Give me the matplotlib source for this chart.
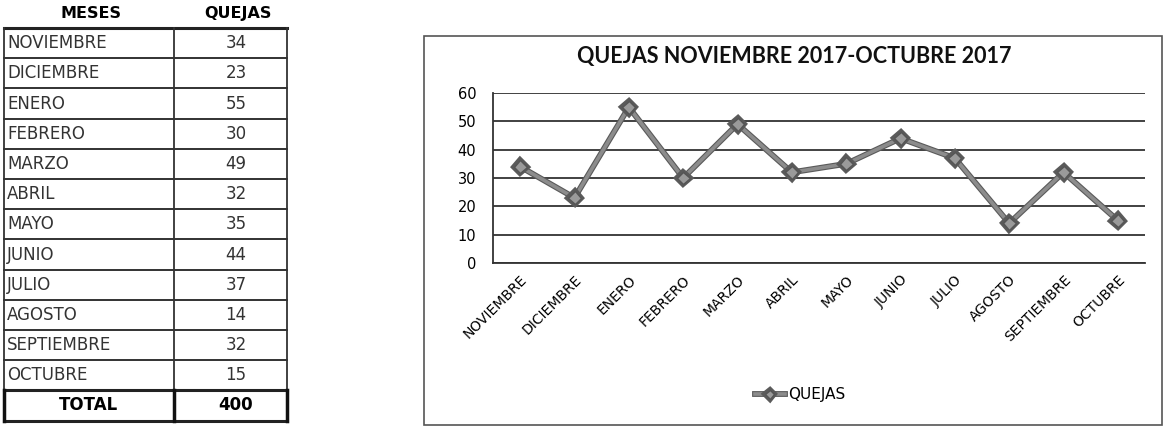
import matplotlib
matplotlib.use('Agg')
import matplotlib.pyplot as plt
import matplotlib.patheffects as pe
from matplotlib.patches import Rectangle

meses = ['NOVIEMBRE', 'DICIEMBRE', 'ENERO', 'FEBRERO', 'MARZO', 'ABRIL',
         'MAYO', 'JUNIO', 'JULIO', 'AGOSTO', 'SEPTIEMBRE', 'OCTUBRE']
quejas = [34, 23, 55, 30, 49, 32, 35, 44, 37, 14, 32, 15]
total = sum(quejas)

plt.rcParams['font.family'] = ['DejaVu Sans']

W, H = 1164, 428
fig = plt.figure(figsize=(W / 100, H / 100), dpi=100)

# ---- table on the left, drawn in pixel coords
tx = fig.add_axes([0, 0, 300 / W, 1])
tx.set_xlim(0, 300)
tx.set_ylim(H, 0)
tx.axis('off')

left, mid, right = 4, 174, 287
top, rh = 28, 30.2
n = len(meses) + 1
bottom = top + n * rh

tx.text(91, 13, 'MESES', ha='center', va='center', fontsize=11.5, fontweight='bold')
tx.text(238, 13, 'QUEJAS', ha='center', va='center', fontsize=11.5, fontweight='bold')
for i, (m, q) in enumerate(zip(meses, quejas)):
    yc = top + (i + 0.5) * rh
    tx.text(left + 3, yc, m, ha='left', va='center', fontsize=12, color='#333')
    tx.text(236, yc, str(q), ha='center', va='center', fontsize=12, color='#333')
yc = top + (n - 0.5) * rh
tx.text((left + mid) / 2, yc, 'TOTAL', ha='center', va='center', fontsize=12, fontweight='bold')
tx.text(236, yc, str(total), ha='center', va='center', fontsize=12, fontweight='bold')

for i in range(n + 1):
    y = top + i * rh
    lw = 2.2 if i in (0, n - 1, n) else 1.3
    tx.plot([left, right], [y, y], color='#222', lw=lw)
for xv in (left, mid, right):
    tx.plot([xv, xv], [top, bottom], color='#333', lw=1.3)
    tx.plot([xv, xv], [top + (n - 1) * rh, bottom], color='#111', lw=2.5)

# ---- chart box
fig.patches.append(Rectangle((424 / W, 1 - 425 / H), (1162 - 424) / W, (425 - 36) / H,
                             transform=fig.transFigure, fill=False, ec='#555', lw=1.2))

ax = fig.add_axes([493 / W, 1 - 263 / H, (1145 - 493) / W, (263 - 93) / H])
x = list(range(len(meses)))
ax.plot(x, quejas, color='#8c8c8c', lw=2.6, marker='D', ms=6.5,
        mfc='#9a9a9a', mec='#555', mew=1.0, label='QUEJAS',
        path_effects=[pe.Stroke(linewidth=4.2, foreground='#5a5a5a'), pe.Normal()])
ax.set_xlim(-0.5, len(meses) - 0.5)
ax.set_ylim(0, 60)
ax.set_yticks(range(0, 61, 10))
ax.yaxis.grid(True, color='#333', lw=1.3)
ax.set_axisbelow(True)
ax.set_xticks(x)
ax.set_xticklabels(meses, rotation=45, ha='right', va='top', rotation_mode='anchor', fontsize=10)
ax.tick_params(axis='both', length=0, labelsize=10.5)
ax.tick_params(axis='x', pad=7, labelsize=10)
ax.tick_params(axis='y', pad=12)
for s in ['top', 'right']:
    ax.spines[s].set_visible(False)
for s in ['left', 'bottom']:
    ax.spines[s].set_color('#333')
    ax.spines[s].set_linewidth(1.3)

fig.text(794 / W, 1 - 57 / H, 'QUEJAS NOVIEMBRE 2017-OCTUBRE 2017', ha='center', va='center',
         fontsize=15.5, fontweight='bold', color='#111', family='Lato')

fig.legend(loc='center', bbox_to_anchor=(800 / W, 1 - 395 / H), frameon=False,
           fontsize=11, handlelength=2.0, handletextpad=0.2, markerscale=0.7)

fig.savefig('out.png', dpi=100)
